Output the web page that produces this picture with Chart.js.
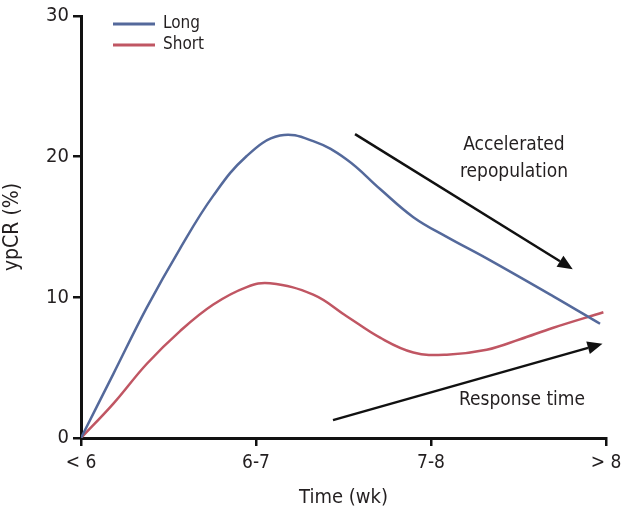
<!DOCTYPE html>
<html>
<head>
<meta charset="utf-8">
<script src="https://cdn.jsdelivr.net/npm/chart.js@4/dist/chart.umd.min.js"></script>
<style>
  html, body { margin: 0; padding: 0; background: #fff; }
  #wrap { width: 622px; height: 514px; }
</style>
</head>
<body>
<div id="wrap"><canvas id="chart" width="622" height="514"></canvas></div>
<script>
// categorias do eixo x (posicao 0..3)
const xLabels = ['< 6', '6-7', '7-8', '> 8'];
const yTicks = [0, 10, 20, 30];

// curva Long
const longX = [0, 0.185, 0.375, 0.566, 0.756, 0.947, 1.137, 1.327, 1.518, 1.709, 1.899, 2.09, 2.318, 2.699, 2.966];
const longY = [0, 4.56, 9.25, 13.47, 17.23, 20.05, 21.5, 21.1, 19.8, 17.7, 15.7, 14.3, 12.77, 10.07, 8.12];

// curva Short
const shortX = [0, 0.185, 0.375, 0.566, 0.756, 0.947, 1.08, 1.327, 1.518, 1.709, 1.899, 2.09, 2.318, 2.509, 2.699, 2.985];
const shortY = [0, 2.44, 5.26, 7.6, 9.49, 10.73, 11.0, 10.19, 8.66, 7.13, 6.08, 5.92, 6.27, 7.02, 7.84, 8.94];

// setas e textos (em coordenadas dos eixos)
const arrows = [
  { from: [1.566, 21.6], to: [2.81, 12.0] },
  { from: [1.44, 1.27], to: [2.98, 6.7] }
];
const notes = [
  { text: 'Accelerated', at: [2.474, 20.8] },
  { text: 'repopulation', at: [2.474, 18.9] },
  { text: 'Response time', at: [2.52, 2.7] }
];

const FONT = '"Liberation Sans Narrow", "DejaVu Sans Condensed", "Liberation Sans", sans-serif';
const BLUE = '#54699b';
const RED = '#c05663';

function pontos(xs, ys) {
  return xs.map((x, i) => ({ x: x, y: ys[i] }));
}

// plugin que desenha setas, textos e a legenda
const extras = {
  id: 'extras',
  afterDatasetsDraw(chart) {
    const ctx = chart.ctx;
    const sx = chart.scales.x, sy = chart.scales.y;
    ctx.save();
    ctx.strokeStyle = '#111';
    ctx.fillStyle = '#111';
    ctx.lineWidth = 2.5;
    arrows.forEach(a => {
      let x1 = sx.getPixelForValue(a.from[0]), y1 = sy.getPixelForValue(a.from[1]);
      let x2 = sx.getPixelForValue(a.to[0]), y2 = sy.getPixelForValue(a.to[1]);
      let ang = Math.atan2(y2 - y1, x2 - x1);
      let len = 15, w = 6.5;
      let bx = x2 - len * Math.cos(ang), by = y2 - len * Math.sin(ang);
      ctx.beginPath();
      ctx.moveTo(x1, y1);
      ctx.lineTo(bx, by);
      ctx.stroke();
      ctx.beginPath();
      ctx.moveTo(x2, y2);
      ctx.lineTo(bx + w * Math.sin(ang), by - w * Math.cos(ang));
      ctx.lineTo(bx - w * Math.sin(ang), by + w * Math.cos(ang));
      ctx.closePath();
      ctx.fill();
    });
    ctx.fillStyle = '#231f20';
    ctx.font = '19px ' + FONT;
    ctx.textAlign = 'center';
    ctx.textBaseline = 'middle';
    notes.forEach(n => {
      ctx.fillText(n.text, sx.getPixelForValue(n.at[0]), sy.getPixelForValue(n.at[1]));
    });
    // legenda
    ctx.font = '17px ' + FONT;
    ctx.textAlign = 'left';
    chart.data.datasets.forEach((ds, i) => {
      let y = 24 + i * 21;
      ctx.strokeStyle = ds.borderColor;
      ctx.lineWidth = 3;
      ctx.beginPath();
      ctx.moveTo(113, y);
      ctx.lineTo(155, y);
      ctx.stroke();
      ctx.fillStyle = '#231f20';
      ctx.fillText(ds.label, 163, y);
    });
    ctx.restore();
  }
};

let ctx = document.getElementById('chart').getContext('2d');
let myChart = new Chart(ctx, {
  type: 'line',
  data: {
    datasets: [
      { label: 'Long', data: pontos(longX, longY), borderColor: BLUE, borderWidth: 2.5,
        pointRadius: 0, tension: 0.4, fill: false },
      { label: 'Short', data: pontos(shortX, shortY), borderColor: RED, borderWidth: 2.5,
        pointRadius: 0, tension: 0.4, fill: false }
    ]
  },
  options: {
    responsive: false,
    animation: false,
    layout: { padding: { top: 12, right: 16, left: 0, bottom: 0 } },
    plugins: { legend: { display: false }, tooltip: { enabled: false } },
    scales: {
      x: {
        type: 'linear', min: 0, max: 3,
        afterBuildTicks: s => { s.ticks = xLabels.map((l, i) => ({ value: i })); },
        afterFit: s => { s.height = 76; s.paddingLeft = 0; s.paddingRight = 0; },
        ticks: { callback: v => xLabels[v], color: '#231f20', padding: 6,
                 font: { family: FONT, size: 19 }, maxRotation: 0 },
        grid: { drawOnChartArea: false, drawTicks: true, tickLength: 8, color: '#111', lineWidth: 2.5 },
        border: { display: true, color: '#111', width: 3 },
        title: { display: true, text: 'Time (wk)', color: '#231f20', padding: { top: 4 },
                 font: { family: FONT, size: 20 } }
      },
      y: {
        min: 0, max: 30,
        afterBuildTicks: s => { s.ticks = yTicks.map(v => ({ value: v })); },
        afterFit: s => { s.width = 81; },
        ticks: { color: '#231f20', padding: 4, font: { family: FONT, size: 20 } },
        grid: { drawOnChartArea: false, drawTicks: true, tickLength: 8, color: '#111', lineWidth: 2.5 },
        border: { display: true, color: '#111', width: 3 },
        title: { display: true, text: 'ypCR (%)', color: '#231f20', padding: 0,
                 font: { family: FONT, size: 21 } }
      }
    }
  },
  plugins: [extras]
});
</script>
</body>
</html>
